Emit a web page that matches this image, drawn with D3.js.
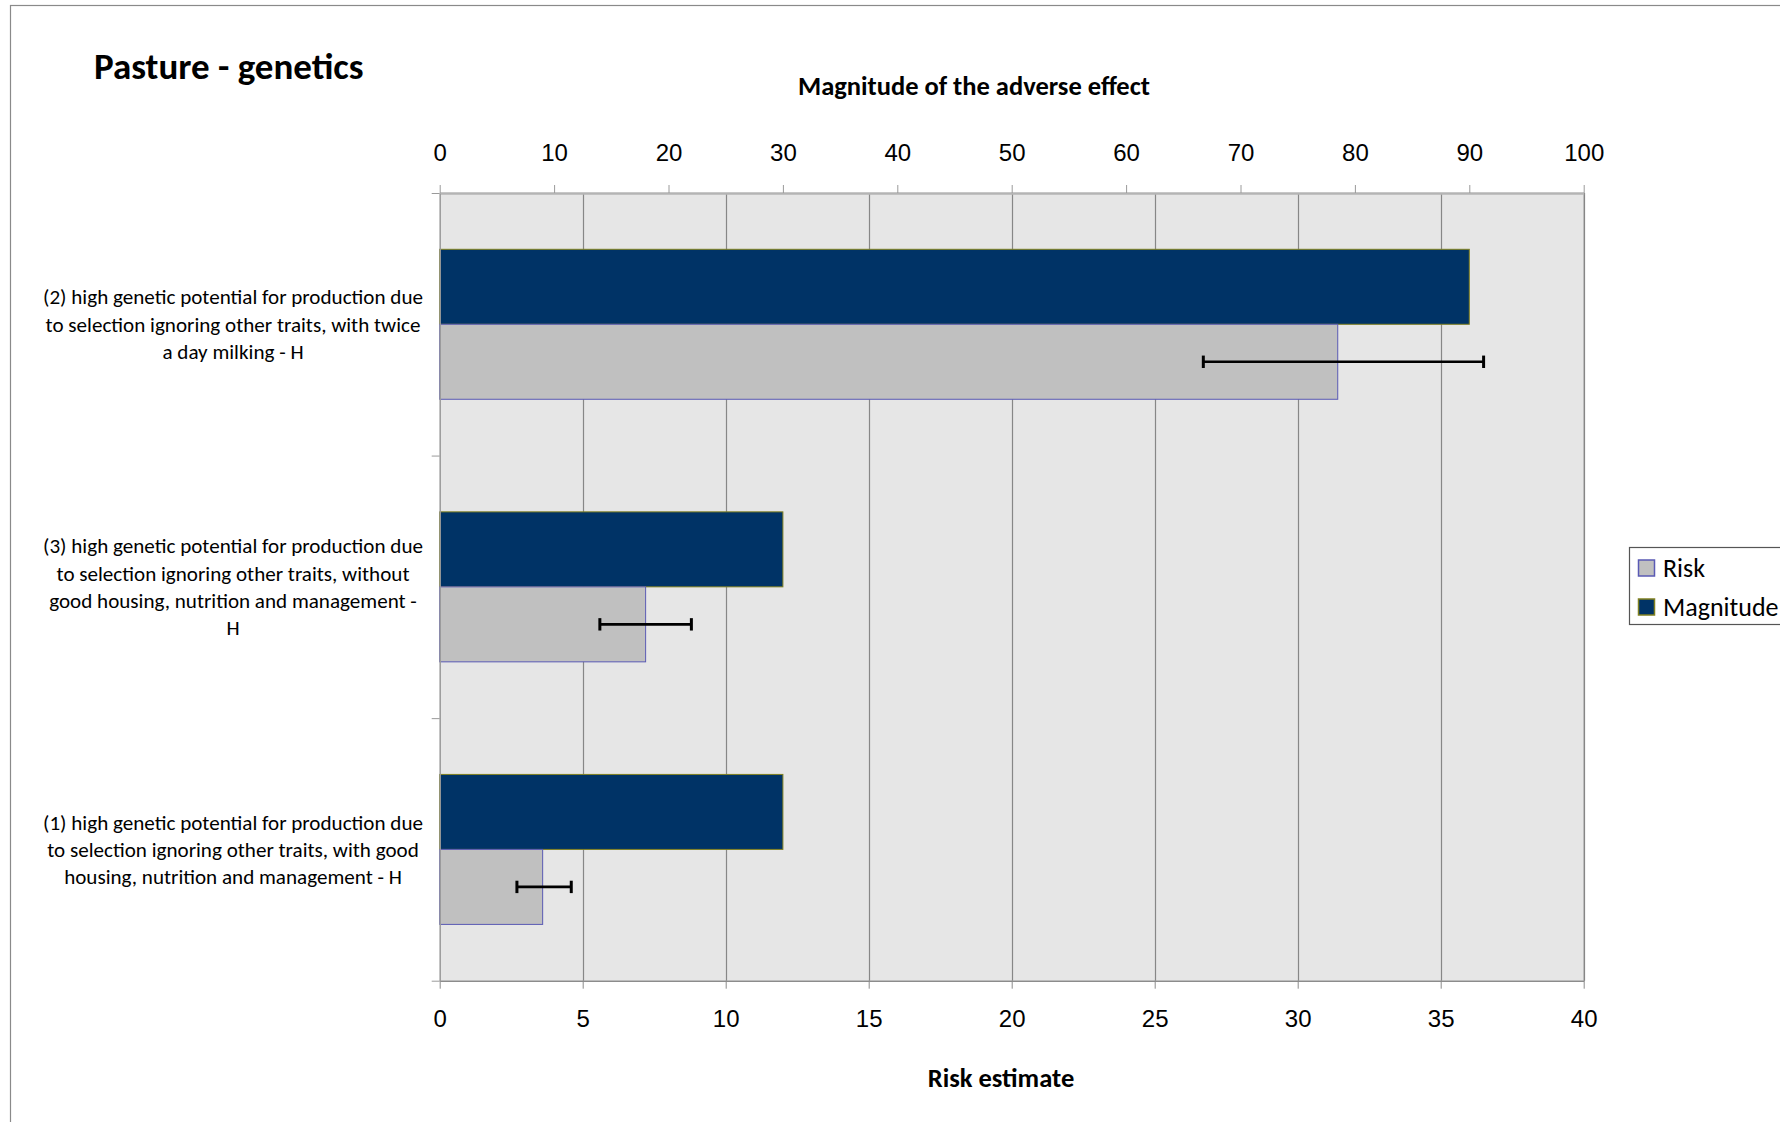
<!DOCTYPE html>
<html>
<head>
<meta charset="utf-8">
<script src="https://cdn.jsdelivr.net/npm/d3@7"></script>
<style>
  html, body { margin: 0; padding: 0; background: #fff; }
  svg { display: block; font-family: Carlito, Lato, "Open Sans", sans-serif; }
</style>
</head>
<body>
<script>
// ---------------- data ----------------
const categories = ["cat2", "cat3", "cat1"];
const categoryLabels = [
  ["(2) high genetic potential for production due", "to selection ignoring other traits, with twice", "a day milking - H"],
  ["(3) high genetic potential for production due", "to selection ignoring other traits, without", "good housing, nutrition and management -", "H"],
  ["(1) high genetic potential for production due", "to selection ignoring other traits, with good", "housing, nutrition and management - H"]
];
const magnitude = [90, 30, 30];
const risk = [31.4, 7.2, 3.6];
const riskLow = [26.7, 5.6, 2.7];
const riskHigh = [36.5, 8.8, 4.6];
const seriesNames = ["Magnitude", "Risk"];
const riskTicks = [0, 5, 10, 15, 20, 25, 30, 35, 40];
const magnitudeTicks = [0, 10, 20, 30, 40, 50, 60, 70, 80, 90, 100];
const title = "Pasture - genetics";
const topAxisTitle = "Magnitude of the adverse effect";
const bottomAxisTitle = "Risk estimate";

// ---------------- layout ----------------
const W = 1780, H = 1122;
const plot = { left: 439.7, right: 1583.7, top: 193, bottom: 980.7 };
const colors = {
  Magnitude: { fill: "#003366", stroke: "#808020" },
  Risk: { fill: "#c0c0c0", stroke: "#5a5ab4" }
};

const svg = d3.select("body").append("svg").attr("width", W).attr("height", H);

// outer chart border
svg.append("rect").attr("x", 10.5).attr("y", 5.5).attr("width", 1800).attr("height", 1200)
  .attr("fill", "none").attr("stroke", "#8a8a8a").attr("stroke-width", 1.2);

const xRisk = d3.scaleLinear().domain([0, 40]).range([plot.left, plot.right]);
const xMag = d3.scaleLinear().domain([0, 100]).range([plot.left, plot.right]);
const y0 = d3.scaleBand().domain(categories).range([plot.top, plot.bottom])
  .paddingInner(0.4288).paddingOuter(0.2144);
const y1 = d3.scaleBand().domain(seriesNames).range([0, y0.bandwidth()]);
const yEdge = d3.scaleLinear().domain([0, categories.length]).range([plot.top, plot.bottom]);

// plot background
svg.append("rect").attr("x", plot.left).attr("y", plot.top)
  .attr("width", plot.right - plot.left).attr("height", plot.bottom - plot.top)
  .attr("fill", "#e6e6e6");

// vertical gridlines (risk axis)
svg.append("g").selectAll("line").data(riskTicks.slice(1)).join("line")
  .attr("x1", d => Math.round(xRisk(d)) + 0.5).attr("x2", d => Math.round(xRisk(d)) + 0.5)
  .attr("y1", plot.top).attr("y2", plot.bottom)
  .attr("stroke", "#878787").attr("stroke-width", 1.2);

// bars
const groups = svg.append("g").selectAll("g").data(categories).join("g")
  .attr("transform", d => `translate(0,${y0(d)})`);

groups.append("rect")
  .attr("x", xMag(0))
  .attr("y", y1("Magnitude"))
  .attr("width", (d, i) => xMag(magnitude[i]) - xMag(0))
  .attr("height", y1.bandwidth())
  .attr("fill", colors.Magnitude.fill)
  .attr("stroke", colors.Magnitude.stroke).attr("stroke-width", 1);

groups.append("rect")
  .attr("x", xRisk(0))
  .attr("y", y1("Risk"))
  .attr("width", (d, i) => xRisk(risk[i]) - xRisk(0))
  .attr("height", y1.bandwidth())
  .attr("fill", colors.Risk.fill)
  .attr("stroke", colors.Risk.stroke).attr("stroke-width", 1);

// error bars
const eb = groups.append("g").attr("stroke", "#000").attr("stroke-width", 2.6);
const ebY = y1("Risk") + y1.bandwidth() / 2;
eb.append("line")
  .attr("x1", (d, i) => xRisk(riskLow[i])).attr("x2", (d, i) => xRisk(riskHigh[i]))
  .attr("y1", ebY).attr("y2", ebY);
eb.append("line")
  .attr("x1", (d, i) => xRisk(riskLow[i])).attr("x2", (d, i) => xRisk(riskLow[i]))
  .attr("y1", ebY - 6.2).attr("y2", ebY + 6.2).attr("stroke-width", 3);
eb.append("line")
  .attr("x1", (d, i) => xRisk(riskHigh[i])).attr("x2", (d, i) => xRisk(riskHigh[i]))
  .attr("y1", ebY - 6.2).attr("y2", ebY + 6.2).attr("stroke-width", 3);

// right plot border
svg.append("line").attr("x1", plot.right + 0.5).attr("x2", plot.right + 0.5)
  .attr("y1", plot.top).attr("y2", plot.bottom).attr("stroke", "#878787").attr("stroke-width", 1.2);

// top axis (magnitude)
const topAxis = svg.append("g").attr("transform", `translate(0,${plot.top})`)
  .call(d3.axisTop(xMag).tickValues(magnitudeTicks).tickSize(8).tickPadding(24).tickSizeOuter(0));
topAxis.select(".domain").attr("stroke", "#b4b4b4").attr("stroke-width", 2.5);
topAxis.selectAll(".tick line").attr("stroke", "#9a9a9a");
topAxis.selectAll("text").attr("font-size", 24).attr("font-family", null).attr("fill", "#000");

// bottom axis (risk)
const bottomAxis = svg.append("g").attr("transform", `translate(0,${plot.bottom})`)
  .call(d3.axisBottom(xRisk).tickValues(riskTicks).tickSize(8).tickPadding(21).tickSizeOuter(0));
bottomAxis.select(".domain").attr("stroke", "#8c8c8c").attr("stroke-width", 1.5);
bottomAxis.selectAll(".tick line").attr("stroke", "#8c8c8c");
bottomAxis.selectAll("text").attr("font-size", 24).attr("font-family", null).attr("fill", "#000");

// left axis (category boundaries)
const leftAxis = svg.append("g").attr("transform", `translate(${plot.left},0)`)
  .call(d3.axisLeft(yEdge).tickValues(d3.range(0, categories.length + 1)).tickFormat("").tickSize(8).tickSizeOuter(0));
leftAxis.select(".domain").attr("stroke", "#9a9a9a").attr("stroke-width", 1.5);
leftAxis.selectAll(".tick line").attr("stroke", "#9a9a9a");

// category labels
const lineH = 27.3;
const labelG = svg.append("g").attr("font-size", 21.1).attr("text-anchor", "middle").attr("fill", "#000");
categories.forEach((c, i) => {
  const lines = categoryLabels[i];
  const cy = y0(c) + y0.bandwidth() / 2;
  const t = labelG.append("text").attr("x", 233).attr("y", cy - (lines.length - 1) * lineH / 2);
  lines.forEach((ln, j) => {
    t.append("tspan").attr("x", 233).attr("dy", j === 0 ? "0.35em" : lineH).text(ln);
  });
});

// titles
svg.append("text").attr("x", 94).attr("y", 79).attr("font-size", 37).attr("font-weight", "bold").text(title);
svg.append("text").attr("x", 974).attr("y", 95).attr("text-anchor", "middle")
  .attr("font-size", 26.5).attr("font-weight", "bold").text(topAxisTitle);
svg.append("text").attr("x", 1001).attr("y", 1087).attr("text-anchor", "middle")
  .attr("font-size", 26.5).attr("font-weight", "bold").text(bottomAxisTitle);

// legend
const legend = svg.append("g");
legend.append("rect").attr("x", 1629.5).attr("y", 547.5).attr("width", 300).attr("height", 77)
  .attr("fill", "#fff").attr("stroke", "#555").attr("stroke-width", 1.2);
const legendItems = ["Risk", "Magnitude"];
const ly = d3.scalePoint().domain(legendItems).range([568, 607]);
legendItems.forEach(name => {
  legend.append("rect").attr("x", 1638.5).attr("y", ly(name) - 8).attr("width", 16).attr("height", 16)
    .attr("fill", colors[name].fill).attr("stroke", colors[name].stroke).attr("stroke-width", 1.5);
  legend.append("text").attr("x", 1663).attr("y", ly(name)).attr("dy", "0.35em")
    .attr("font-size", 26).attr("fill", "#000").text(name);
});
</script>
</body>
</html>
